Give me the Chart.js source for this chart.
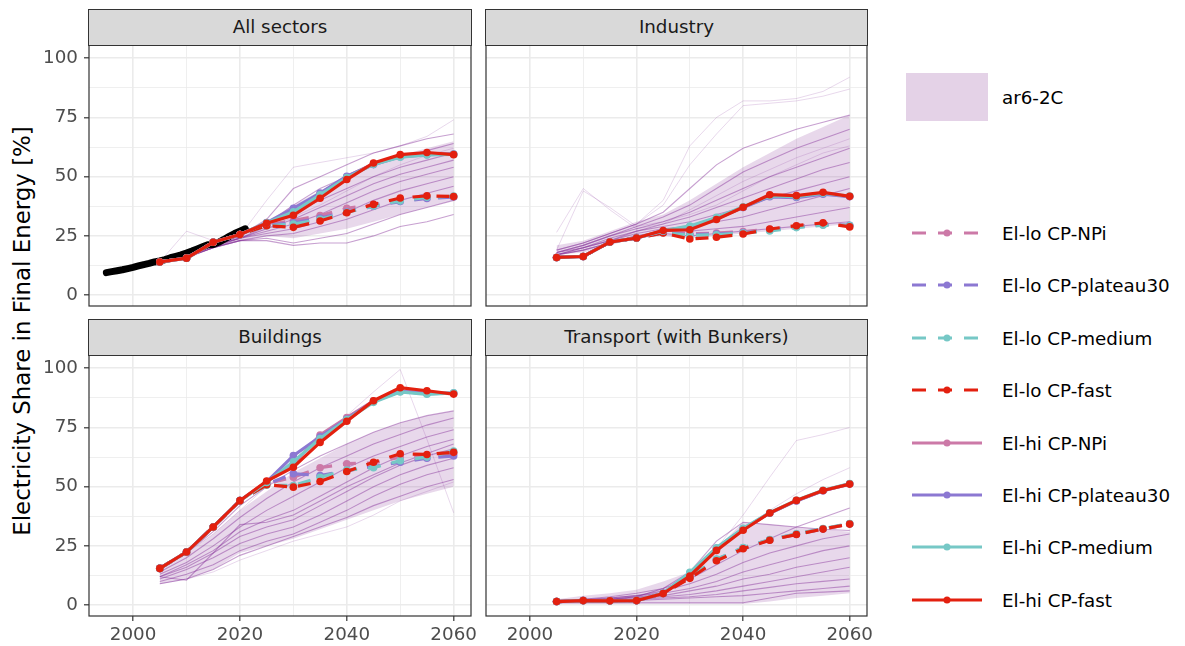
<!DOCTYPE html>
<html>
<head>
<meta charset="utf-8">
<script src="https://cdn.jsdelivr.net/npm/chart.js@4.4.0/dist/chart.umd.min.js"></script>
<style>
  body { margin: 0; width: 1185px; height: 646px; overflow: hidden; background: #fff; position: relative; font-family: "DejaVu Sans", sans-serif; }
  canvas { position: absolute; }
  .strip { position: absolute; background: #d9d9d9; border: 1px solid #333; box-sizing: border-box; text-align: center; font-size: 18.3px; color: #1a1a1a; line-height: 33px; }
  .ytitle { position: absolute; left: 22px; top: 331px; transform: translate(-50%, -50%) rotate(-90deg); white-space: nowrap; font-size: 22.9px; color: #000; }
  .lg-text { position: absolute; left: 1002px; font-size: 18.3px; color: #000; transform: translateY(-50%); white-space: nowrap; }
  .lg-line { position: absolute; height: 3px; transform: translateY(-50%); }
  .lg-dot { position: absolute; width: 7px; height: 7px; border-radius: 50%; transform: translate(-50%, -50%); }
</style>
</head>
<body>
<div class="ytitle">Electricity Share in Final Energy [%]</div>
<div id="legend"></div>

<canvas id="c-all" width="480" height="271" style="left:0;top:40px"></canvas>
<canvas id="c-ind" width="400" height="271" style="left:480px;top:40px"></canvas>
<canvas id="c-bld" width="480" height="296" style="left:0;top:350px"></canvas>
<canvas id="c-trn" width="400" height="296" style="left:480px;top:350px"></canvas>

<div class="strip" style="left:88px;top:9px;width:384px;height:37px">All sectors</div>
<div class="strip" style="left:485px;top:9px;width:383px;height:37px">Industry</div>
<div class="strip" style="left:88px;top:319px;width:384px;height:37px">Buildings</div>
<div class="strip" style="left:485px;top:319px;width:383px;height:37px">Transport (with Bunkers)</div>

<script>
/* ---------- data ---------- */
const years = [2005, 2010, 2015, 2020, 2025, 2030, 2035, 2040, 2045, 2050, 2055, 2060];
const xTicks = [2000, 2010, 2020, 2030, 2040, 2050, 2060];
const yTicks = [0, 12.5, 25, 37.5, 50, 62.5, 75, 87.5, 100];

const scenarioLabels = ["El-lo CP-NPi", "El-lo CP-plateau30", "El-lo CP-medium", "El-lo CP-fast",
                        "El-hi CP-NPi", "El-hi CP-plateau30", "El-hi CP-medium", "El-hi CP-fast"];
const scenarioColors = ["#cc79a7", "#8c78d2", "#76c8c6", "#e3200f", "#cc79a7", "#8c78d2", "#76c8c6", "#e3200f"];
const ensembleLabel = "ar6-2C";

// historical (All sectors only)
const histYears = [1995, 1996, 1997, 1998, 1999, 2000, 2001, 2002, 2003, 2004, 2005, 2006, 2007, 2008,
                   2009, 2010, 2011, 2012, 2013, 2014, 2015, 2016, 2017, 2018, 2019, 2020, 2021];
const histShare = [9.5, 9.9, 10.3, 10.7, 11.2, 11.7, 12.3, 12.9, 13.4, 14.0, 14.4, 15.0, 15.8, 16.4,
                   17.0, 17.8, 18.6, 19.5, 20.4, 21.3, 21.4, 22.3, 23.5, 24.8, 26.0, 27.0, 28.0];

// All sectors
const allLoNPi     = [14.0, 15.6, 22.3, 25.6, 29.6, 31.5, 33.6, 36.6, 38.2, 40.2, 41.1, 41.5];
const allLoPlateau = [14.0, 15.6, 22.3, 25.6, 29.5, 30.5, 32.5, 35.2, 37.5, 39.5, 40.8, 41.4];
const allLoMedium  = [14.0, 15.6, 22.3, 25.6, 29.3, 30.0, 32.0, 35.0, 37.6, 39.8, 41.3, 41.8];
const allLoFast    = [14.0, 15.6, 22.3, 25.6, 29.3, 28.6, 31.3, 34.8, 38.3, 41.0, 41.9, 41.6];
const allHiNPi     = [14.0, 15.6, 22.3, 25.6, 30.5, 35.8, 42.8, 50.0, 55.5, 58.8, 59.6, 59.5];
const allHiPlateau = [14.0, 15.6, 22.3, 25.6, 30.6, 36.6, 43.1, 50.2, 55.1, 58.4, 59.3, 59.6];
const allHiMedium  = [14.0, 15.6, 22.3, 25.6, 30.5, 35.2, 42.3, 49.6, 55.2, 58.2, 59.2, 59.4];
const allHiFast    = [14.0, 15.6, 22.3, 25.6, 30.3, 33.7, 40.9, 48.8, 55.8, 59.3, 60.2, 59.3];
const allBandLo = [13, 15, 20, 23, 25, 24, 26, 28, 31, 34, 37, 40];
const allBandHi = [15, 18, 23, 26, 31, 38, 44, 50, 55, 59, 62, 65];
const allRuns = [
  [14, 17, 22, 25, 32, 45, 50, 55, 60, 63, 66, 68],
  [14, 17, 21, 25, 30, 38, 45, 50, 55, 58, 61, 64],
  [14, 16, 21, 24, 29, 35, 40, 45, 50, 54, 57, 60],
  [14, 16, 21, 24, 28, 32, 37, 42, 47, 51, 54, 57],
  [14, 16, 21, 24, 27, 30, 34, 39, 44, 48, 51, 54],
  [14, 16, 20, 24, 26, 28, 31, 35, 40, 44, 47, 50],
  [14, 16, 20, 23, 25, 26, 29, 32, 36, 40, 43, 46],
  [14, 16, 20, 23, 24, 22, 24, 26, 30, 34, 37, 40],
  [14, 16, 20, 23, 23, 21, 22, 22, 25, 29, 31, 34]
];
const allFaintRuns = [
  [14, 17, 21, 25, 40, 54, 56, 58, 60, 63, 67, 74],
  [14, 27, 23, 24, 28, 33, 38, 44, 50, 55, 59, 62]
];

// Industry
const indLoNPi     = [15.9, 16.3, 22.4, 24.1, 26.5, 25.9, 26.2, 26.8, 27.8, 29.0, 30.0, 29.3];
const indLoPlateau = [15.9, 16.3, 22.4, 24.1, 26.4, 25.5, 25.8, 26.4, 27.5, 28.8, 29.7, 29.5];
const indLoMedium  = [15.9, 16.3, 22.4, 24.1, 26.3, 25.2, 25.5, 26.2, 27.1, 28.5, 29.5, 29.4];
const indLoFast    = [15.9, 16.3, 22.4, 24.1, 26.2, 23.7, 24.4, 25.8, 27.9, 29.3, 30.5, 28.8];
const indHiNPi     = [15.9, 16.3, 22.4, 24.1, 27.2, 28.5, 32.2, 37.0, 42.0, 41.8, 43.1, 41.6];
const indHiPlateau = [15.9, 16.3, 22.4, 24.1, 27.0, 28.8, 32.5, 37.0, 41.5, 41.2, 42.6, 41.6];
const indHiMedium  = [15.9, 16.3, 22.4, 24.1, 27.1, 29.2, 32.8, 37.3, 41.9, 41.6, 43.0, 41.8];
const indHiFast    = [15.9, 16.3, 22.4, 24.1, 27.3, 27.6, 31.9, 37.1, 42.4, 42.0, 43.4, 41.7];
const indBandLo = [17, 18, 21, 24, 25, 24, 25, 26, 27, 28, 29, 30];
const indBandHi = [21, 23, 27, 31, 34, 40, 47, 54, 60, 66, 71, 76];
const indRuns = [
  [19, 22, 26, 30, 35, 45, 55, 62, 66, 70, 73, 76],
  [18, 21, 25, 29, 33, 38, 45, 52, 57, 62, 66, 70],
  [18, 21, 25, 28, 31, 35, 40, 45, 50, 54, 58, 62],
  [18, 20, 24, 27, 30, 33, 37, 41, 45, 49, 53, 56],
  [17, 20, 23, 27, 29, 31, 34, 37, 41, 44, 47, 50],
  [17, 20, 23, 26, 28, 29, 31, 33, 36, 39, 42, 45],
  [17, 19, 22, 25, 27, 27, 28, 29, 31, 33, 35, 37],
  [17, 19, 22, 25, 26, 25, 26, 27, 28, 29, 30, 31]
];
const indFaintRuns = [
  [26.5, 45, 36, 28, 30, 36, 42, 48, 53, 58, 62, 66],
  [19, 44, 37, 29, 31, 34, 38, 44, 50, 55, 60, 63],
  [19, 22, 26, 30, 40, 63, 75, 82, 82, 83, 86, 92],
  [19, 22, 26, 30, 38, 55, 68, 80, 81, 82, 84, 87]
];

// Buildings
const bldLoNPi     = [15.5, 22.4, 33.0, 44.1, 51.2, 54.0, 58.0, 59.7, 60.0, 62.5, 63.2, 64.0];
const bldLoPlateau = [15.5, 22.4, 33.0, 44.1, 51.0, 55.5, 54.7, 56.8, 58.5, 60.3, 62.0, 63.0];
const bldLoMedium  = [15.5, 22.4, 33.0, 44.1, 50.6, 50.5, 54.0, 57.0, 58.0, 61.0, 62.5, 65.0];
const bldLoFast    = [15.5, 22.4, 33.0, 44.1, 50.8, 49.8, 52.2, 56.4, 60.3, 63.9, 63.6, 64.5];
const bldHiNPi     = [15.5, 22.4, 33.0, 44.1, 52.2, 59.5, 71.8, 79.2, 86.2, 90.6, 89.6, 89.3];
const bldHiPlateau = [15.5, 22.4, 33.0, 44.1, 52.0, 63.1, 71.1, 78.6, 86.0, 90.2, 89.3, 89.5];
const bldHiMedium  = [15.5, 22.4, 33.0, 44.1, 51.8, 60.5, 70.3, 78.3, 85.6, 90.0, 89.0, 89.6];
const bldHiFast    = [15.5, 22.4, 33.0, 44.1, 52.4, 58.2, 68.7, 77.6, 86.3, 91.8, 90.5, 89.1];
const bldBandLo = [9, 11, 15, 22, 25, 28, 32, 36, 40, 44, 47, 50];
const bldBandHi = [16, 22, 30, 40, 48, 56, 62, 68, 73, 77, 80, 82];
const bldRuns = [
  [15, 22, 31, 42, 50, 57, 63, 68, 73, 77, 80, 82],
  [14, 20, 28, 37, 45, 52, 58, 63, 68, 72, 76, 79],
  [13, 18, 25, 33, 40, 46, 52, 58, 63, 67, 71, 74],
  [12, 17, 23, 31, 36, 40, 46, 52, 58, 63, 67, 70],
  [12, 16, 22, 29, 33, 36, 42, 48, 54, 59, 63, 66],
  [11, 15, 20, 26, 30, 33, 38, 44, 50, 55, 59, 62],
  [10, 13, 17, 23, 27, 30, 35, 40, 46, 51, 55, 58],
  [9, 11, 15, 21, 25, 29, 33, 37, 42, 46, 50, 53],
  [12, 10.5, 22, 34, 35, 38, 44, 50, 55, 60, 64, 68]
];
const bldFaintRuns = [
  [15, 22, 30, 40, 50, 60, 70, 80, 90, 99.5, 70, 39],
  [9, 11, 14, 19, 23, 27, 30, 33, 38, 44, 48, 52]
];

// Transport (with Bunkers)
const trnLoNPi     = [1.5, 1.9, 1.8, 1.9, 4.9, 11.6, 19.0, 24.0, 27.5, 29.9, 32.1, 34.2];
const trnLoPlateau = [1.5, 1.9, 1.8, 1.9, 4.9, 11.8, 19.2, 24.2, 27.6, 30.0, 32.2, 34.3];
const trnLoMedium  = [1.5, 1.9, 1.8, 1.9, 4.9, 12.0, 19.4, 24.3, 27.7, 30.1, 32.3, 34.4];
const trnLoFast    = [1.5, 1.9, 1.8, 1.9, 4.9, 11.3, 18.7, 23.8, 27.4, 29.8, 32.1, 34.2];
const trnHiNPi     = [1.5, 1.9, 1.8, 1.9, 4.9, 13.0, 23.6, 32.0, 38.9, 44.1, 48.3, 51.1];
const trnHiPlateau = [1.5, 1.9, 1.8, 1.9, 5.0, 13.5, 24.0, 32.2, 38.8, 44.0, 48.3, 51.2];
const trnHiMedium  = [1.5, 1.9, 1.8, 1.9, 5.0, 13.8, 24.2, 32.4, 39.0, 44.3, 48.5, 51.3];
const trnHiFast    = [1.5, 1.9, 1.8, 1.9, 4.9, 12.3, 23.1, 31.6, 38.9, 44.2, 48.4, 51.1];
const trnBandLo = [0.5, 0.5, 0.5, 0.5, 0.5, 0.5, 0.5, 0.5, 1.5, 3, 4, 5];
const trnBandHi = [2.5, 4, 5, 6.5, 10, 14, 24, 35, 34, 33, 32, 31];
const trnRuns = [
  [1.5, 2, 2.5, 3.5, 7, 14, 27, 35, 34, 33, 32, 31.5],
  [1.5, 2.5, 3.5, 5, 7, 11, 17, 23, 28, 33, 37, 41],
  [1.5, 2.5, 3, 4, 6, 9, 13, 18, 22, 25, 28, 30],
  [1.5, 2, 3, 4, 5, 7, 10, 14, 17, 20, 23, 25],
  [1.5, 2, 2.5, 3.5, 4, 6, 8, 11, 13, 16, 18, 20],
  [1.5, 2, 2.5, 3, 3.5, 4.5, 6, 8, 10, 12, 14, 16],
  [1, 1.5, 2, 2.5, 3, 3.5, 4.5, 6, 7.5, 9, 10, 11],
  [1, 1, 1, 1, 1, 1, 1, 1, 3, 5, 5.5, 6],
  [1, 1.5, 1.5, 2, 2.5, 3, 3.5, 4, 5, 6, 7, 8]
];
const trnFaintRuns = [
  [1.5, 2, 2.5, 3, 6, 12, 24, 38, 54, 69.5, 72, 75],
  [1.5, 2, 2.5, 3.5, 7, 13, 22, 32, 40, 47, 53, 58]
];

/* ---------- styling ---------- */
const FONT = "'DejaVu Sans', sans-serif";
const bandFill = "rgba(142, 58, 157, 0.2)";
const runColor = "rgba(130, 45, 150, 0.45)";
const faintRunColor = "rgba(140, 60, 160, 0.2)";

const pts = (xs, ys) => xs.map((x, i) => ({ x: x, y: ys[i] }));

// draws the dark panel frame
const frame = {
  id: "frame",
  afterDraw(chart) {
    const { ctx, chartArea: a } = chart;
    ctx.save();
    ctx.strokeStyle = "#333";
    ctx.lineWidth = 1.2;
    ctx.strokeRect(a.left, a.top, a.right - a.left, a.bottom - a.top);
    ctx.restore();
  }
};

function makePanel(id, series, bandLo, bandHi, runs, faintRuns, opts) {
  const datasets = [];

  datasets.push({ data: pts(years, bandLo), borderWidth: 0, pointRadius: 0, fill: false, order: 60 });
  datasets.push({ data: pts(years, bandHi), borderWidth: 0, pointRadius: 0, fill: "-1", backgroundColor: bandFill, order: 59 });

  faintRuns.forEach(r => {
    datasets.push({ data: pts(years, r), borderColor: faintRunColor, borderWidth: 1, pointRadius: 0, fill: false, order: 55 });
  });
  runs.forEach(r => {
    datasets.push({ data: pts(years, r), borderColor: runColor, borderWidth: 1.1, pointRadius: 0, fill: false, order: 50 });
  });

  if (opts.hist) {
    datasets.push({ data: pts(histYears, histShare), borderColor: "#000", borderWidth: 7, pointRadius: 0,
                    borderCapStyle: "round", borderJoinStyle: "round", fill: false, order: 40 });
  }

  series.forEach((s, i) => {
    const dashed = i < 4;
    datasets.push({
      data: pts(years, s),
      borderColor: scenarioColors[i],
      backgroundColor: scenarioColors[i],
      borderWidth: 3.2,
      borderDash: dashed ? [13, 11] : [],
      pointRadius: 3.8,
      pointBorderWidth: 0,
      fill: false,
      order: 30 - i
    });
  });

  const showX = opts.showX, showY = opts.showY;

  new Chart(document.getElementById(id), {
    type: "line",
    data: { datasets },
    plugins: [frame],
    options: {
      responsive: false,
      animation: false,
      events: [],
      layout: { padding: opts.padding },
      plugins: { legend: { display: false }, tooltip: { enabled: false } },
      scales: {
        x: {
          type: "linear", min: 1991.75, max: 2063.25,
          afterBuildTicks: s => { s.ticks = xTicks.map(v => ({ value: v })); },
          afterFit: s => { s.height = showX ? 30 : 0; s.paddingLeft = 0; s.paddingRight = 0; },
          border: { display: false },
          grid: {
            color: "#ebebeb",
            lineWidth: c => (c.tick && c.tick.value % 20 === 0) ? 1.6 : 0.8,
            drawTicks: showX, tickLength: 5, tickWidth: 1.2,
            tickColor: c => (c.tick && c.tick.value % 20 === 0) ? "#333" : "rgba(0,0,0,0)"
          },
          ticks: {
            display: showX, autoSkip: false, maxRotation: 0, padding: 3,
            color: "#4d4d4d", font: { family: FONT, size: 18.3 },
            callback: v => v % 20 === 0 ? String(v) : ""
          }
        },
        y: {
          min: -4.6, max: 105.6,
          afterBuildTicks: s => { s.ticks = yTicks.map(v => ({ value: v })); },
          afterFit: s => { s.width = showY ? 89 : 0; s.paddingTop = 0; s.paddingBottom = 0; },
          border: { display: false },
          grid: {
            color: "#ebebeb",
            lineWidth: c => (c.tick && c.tick.value % 25 === 0) ? 1.6 : 0.8,
            drawTicks: showY, tickLength: 5, tickWidth: 1.2,
            tickColor: c => (c.tick && c.tick.value % 25 === 0) ? "#333" : "rgba(0,0,0,0)"
          },
          ticks: {
            display: showY, autoSkip: false, padding: 6,
            color: "#4d4d4d", font: { family: FONT, size: 18.3 },
            callback: v => v % 25 === 0 ? String(v) : ""
          }
        }
      }
    }
  });
}

makePanel("c-all", [allLoNPi, allLoPlateau, allLoMedium, allLoFast, allHiNPi, allHiPlateau, allHiMedium, allHiFast],
  allBandLo, allBandHi, allRuns, allFaintRuns,
  { hist: true, showX: false, showY: true, padding: { top: 5, left: 0, right: 9, bottom: 5 } });
makePanel("c-ind", [indLoNPi, indLoPlateau, indLoMedium, indLoFast, indHiNPi, indHiPlateau, indHiMedium, indHiFast],
  indBandLo, indBandHi, indRuns, indFaintRuns,
  { showX: false, showY: false, padding: { top: 5, left: 6, right: 13, bottom: 5 } });
makePanel("c-bld", [bldLoNPi, bldLoPlateau, bldLoMedium, bldLoFast, bldHiNPi, bldHiPlateau, bldHiMedium, bldHiFast],
  bldBandLo, bldBandHi, bldRuns, bldFaintRuns,
  { showX: true, showY: true, padding: { top: 5, left: 0, right: 9, bottom: 0 } });
makePanel("c-trn", [trnLoNPi, trnLoPlateau, trnLoMedium, trnLoFast, trnHiNPi, trnHiPlateau, trnHiMedium, trnHiFast],
  trnBandLo, trnBandHi, trnRuns, trnFaintRuns,
  { showX: true, showY: false, padding: { top: 5, left: 6, right: 13, bottom: 0 } });

/* ---------- legend ---------- */
const legend = document.getElementById("legend");
let html = '<div style="position:absolute;left:906px;top:73px;width:82px;height:48px;background:#e4d2e7"></div>';
html += '<div class="lg-text" style="top:97px">' + ensembleLabel + '</div>';
scenarioLabels.forEach((name, i) => {
  const y = 233 + i * 52.4;
  const col = scenarioColors[i];
  if (i < 4) {
    html += '<div class="lg-line" style="left:912px;top:' + y + 'px;width:66px;background:repeating-linear-gradient(to right,' +
            col + ' 0 14px, transparent 14px 26px)"></div>';
  } else {
    html += '<div class="lg-line" style="left:912px;top:' + y + 'px;width:70px;background:' + col + '"></div>';
  }
  html += '<div class="lg-dot" style="left:947px;top:' + y + 'px;background:' + col + '"></div>';
  html += '<div class="lg-text" style="top:' + y + 'px">' + name + '</div>';
});
legend.innerHTML = html;
</script>
</body>
</html>
